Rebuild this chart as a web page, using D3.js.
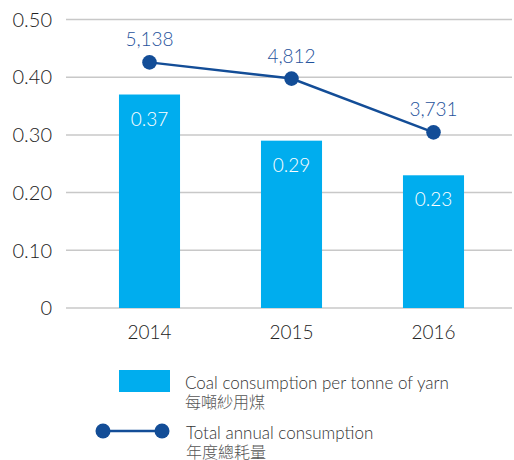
<!DOCTYPE html>
<html>
<head>
<meta charset="utf-8">
<script src="https://cdn.jsdelivr.net/npm/d3@7"></script>
<style>
  body { margin: 0; background: #fff; }
  svg { display: block; font-family: Lato, "Noto Sans CJK TC", sans-serif; font-weight: 300; }
</style>
</head>
<body>
<svg width="514" height="460"></svg>
<script>
let years = ['2014', '2015', '2016']
let coalPerTonne = [0.37, 0.29, 0.23]
let totalAnnual = [5138, 4812, 3731]
let yTicks = [0, 0.1, 0.2, 0.3, 0.4, 0.5]

let svg = d3.select('svg')
let barColor = '#00adee'
let lineColor = '#134d97'

let x = d3.scaleBand().domain(years).range([78.5, 504.5]).paddingInner(0.57).paddingOuter(0.285)
let y = d3.scaleLinear().domain([0, 0.5]).range([308, 19.5])
// hidden secondary axis for the line
let y2 = d3.scaleLinear().domain([200, 6000]).range([308, 19.5])

// gridlines
svg.append('g')
  .selectAll('line')
  .data(yTicks)
  .enter()
  .append('line')
    .attr('x1', 66).attr('x2', 512)
    .attr('y1', function(d) { return y(d) }).attr('y2', function(d) { return y(d) })
    .attr('stroke', '#c8c8c8').attr('stroke-width', 1.5)

svg.append('g')
  .selectAll('text')
  .data(yTicks)
  .enter()
  .append('text')
    .attr('x', 52)
    .attr('y', function(d) { return y(d) })
    .attr('dy', '0.36em')
    .attr('text-anchor', 'end')
    .attr('fill', '#222')
    .style('font-size', '20px')
    .text(function(d) { return d === 0 ? '0' : d3.format('.2f')(d) })

// bars
let bars = svg.append('g')
  .selectAll('g')
  .data(years)
  .enter()
  .append('g')

bars.append('rect')
  .attr('x', function(d) { return x(d) })
  .attr('width', x.bandwidth())
  .attr('y', function(d, i) { return y(coalPerTonne[i]) })
  .attr('height', function(d, i) { return y(0) - y(coalPerTonne[i]) })
  .attr('fill', barColor)

bars.append('text')
  .attr('x', function(d) { return x(d) + x.bandwidth() / 2 })
  .attr('y', function(d, i) { return y(coalPerTonne[i]) + 31 })
  .attr('text-anchor', 'middle')
  .attr('fill', '#fff')
  .style('font-size', '19px')
  .text(function(d, i) { return d3.format('.2f')(coalPerTonne[i]) })

// x labels
svg.append('g')
  .selectAll('text')
  .data(years)
  .enter()
  .append('text')
    .attr('x', function(d) { return x(d) + x.bandwidth() / 2 })
    .attr('y', 339)
    .attr('text-anchor', 'middle')
    .attr('fill', '#222')
    .style('font-size', '19px')
    .text(function(d) { return d })

// line
let cx = function(d, i) { return x(years[i]) + x.bandwidth() / 2 }
let line = d3.line()
  .x(function(d, i) { return cx(d, i) })
  .y(function(d) { return y2(d) })

svg.append('path')
  .datum(totalAnnual)
  .attr('d', line)
  .attr('fill', 'none')
  .attr('stroke', lineColor)
  .attr('stroke-width', 2.5)

svg.append('g')
  .selectAll('circle')
  .data(totalAnnual)
  .enter()
  .append('circle')
    .attr('cx', cx)
    .attr('cy', function(d) { return y2(d) })
    .attr('r', 7.3)
    .attr('fill', lineColor)

svg.append('g')
  .selectAll('text')
  .data(totalAnnual)
  .enter()
  .append('text')
    .attr('x', cx)
    .attr('y', function(d) { return y2(d) - 16 })
    .attr('text-anchor', 'middle')
    .attr('fill', '#1f529c')
    .style('font-size', '19px')
    .text(function(d) { return d3.format(',')(d) })

// legend
let legend = svg.append('g')
legend.append('rect')
  .attr('x', 119).attr('y', 370).attr('width', 51).attr('height', 22)
  .attr('fill', barColor)
legend.append('text')
  .attr('x', 185).attr('y', 389).attr('fill', '#333').style('font-size', '17px')
  .text('Coal consumption per tonne of yarn')
legend.append('text')
  .attr('x', 185).attr('y', 408).attr('fill', '#555').style('font-size', '16px')
  .text('每噸紗用煤')

legend.append('line')
  .attr('x1', 103).attr('x2', 162).attr('y1', 431).attr('y2', 431)
  .attr('stroke', lineColor).attr('stroke-width', 2.5)
legend.selectAll('circle')
  .data([103, 162])
  .enter()
  .append('circle')
    .attr('cx', function(d) { return d }).attr('cy', 431).attr('r', 7.5)
    .attr('fill', lineColor)
legend.append('text')
  .attr('x', 186).attr('y', 439).attr('fill', '#333').style('font-size', '17px')
  .text('Total annual consumption')
legend.append('text')
  .attr('x', 186).attr('y', 458).attr('fill', '#555').style('font-size', '16px')
  .text('年度總耗量')
</script>
</body>
</html>
